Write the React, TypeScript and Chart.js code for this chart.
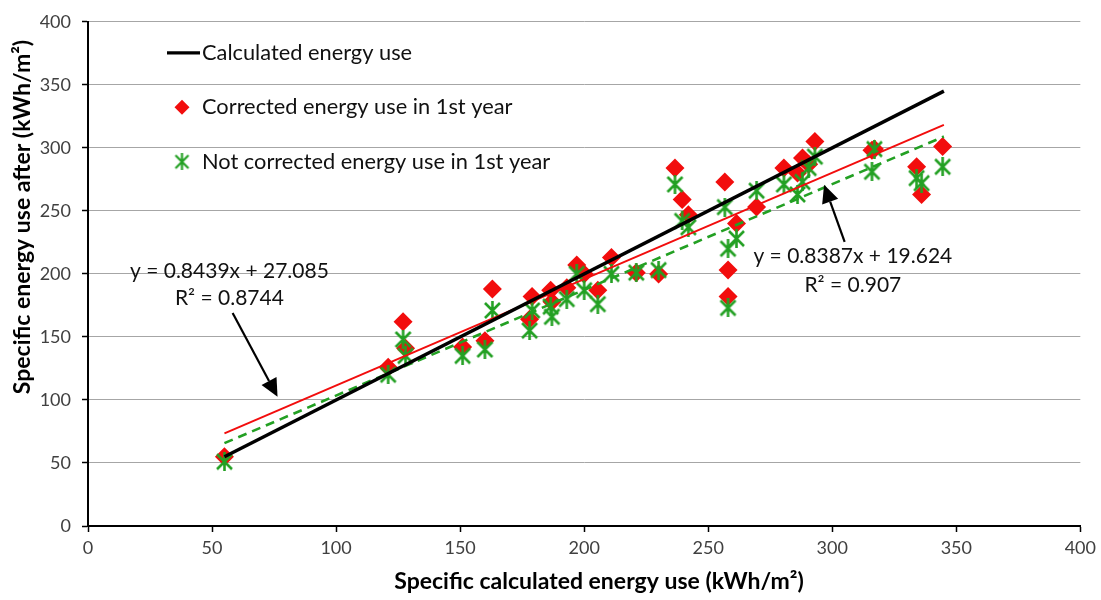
import { useEffect, useRef } from "react";
import { Chart, registerables } from "chart.js";

Chart.register(...registerables);

// Specific calculated energy use per building (kWh/m²)
const calculatedUse = [
  55, 121, 127, 128, 151, 160, 163, 178, 179, 186.5, 187, 193, 197, 200, 205.5,
  211, 221, 230, 236.6, 239.5, 242, 256.7, 258, 258, 261.4, 269.5, 280.5, 286,
  288, 290.5, 293, 316, 317, 334, 336, 344.5,
];
// Energy use after, corrected for the 1st year
const correctedUse = [
  55, 126, 162, 141, 142, 147, 188, 164, 182, 187, 178, 189, 207, 200, 187,
  213, 201, 200, 284, 259, 247, 273, 203, 182, 240, 253, 284, 280, 292, 287,
  305, 298, 299, 285, 263, 301,
];
// Energy use after, not corrected, 1st year
const notCorrectedUse = [
  51, 120, 148, 135, 135, 140, 171, 155, 171, 174, 166, 180, 200, 187, 176,
  200, 201, 203, 271, 242, 237, 253, 220, 173, 228, 266, 271, 263, 273, 284,
  293, 281, 299, 276, 272, 285,
];

const axisTicks = [0, 50, 100, 150, 200, 250, 300, 350, 400];
const lineRange = [55, 345];

// Regression results
const correctedFit = { slope: 0.8439, intercept: 27.085, r2: "0.8744" };
const notCorrectedFit = { slope: 0.8387, intercept: 19.624, r2: "0.907" };

const legendLabels = [
  "Calculated energy use",
  "Corrected energy use in 1st year",
  "Not corrected energy use in 1st year",
];
const xTitle = "Specific calculated energy use (kWh/m²)";
const yTitle = "Specific energy use after (kWh/m²)";

const FONT = 'Lato, "Open Sans", sans-serif';
const RED = "#f20d0d";
const GREEN = "#23a023";

function makeAsterisk(size: number, color: string, width: number) {
  const c = document.createElement("canvas");
  c.width = size;
  c.height = size;
  const g = c.getContext("2d")!;
  g.strokeStyle = color;
  g.lineWidth = width;
  g.lineCap = "butt";
  const m = 2;
  g.beginPath();
  g.moveTo(m, m);
  g.lineTo(size - m, size - m);
  g.moveTo(size - m, m);
  g.lineTo(m, size - m);
  g.moveTo(size / 2, 0);
  g.lineTo(size / 2, size);
  g.stroke();
  return c;
}

function fitLine(fit: { slope: number; intercept: number }) {
  return lineRange.map((x) => ({ x, y: fit.slope * x + fit.intercept }));
}

export default function App() {
  const ref = useRef<HTMLCanvasElement>(null);

  useEffect(() => {
    document.body.style.margin = "0";
    const asterisk = makeAsterisk(19, GREEN, 2.6);
    const legendAsterisk = makeAsterisk(17, GREEN, 2.2);

    const overlay = {
      id: "overlay",
      afterDraw(chart: any) {
        const { ctx, chartArea, scales } = chart;
        const xs = scales.x;
        const ys = scales.y;
        ctx.save();

        // axis titles
        ctx.fillStyle = "#000";
        ctx.textBaseline = "middle";
        ctx.textAlign = "center";
        ctx.font = `bold 23px ${FONT}`;
        ctx.fillText(xTitle, 599, 582);
        ctx.save();
        ctx.translate(23, 217);
        ctx.rotate(-Math.PI / 2);
        ctx.font = `bold 23px ${FONT}`;
        ctx.fillText(yTitle, 0, 0);
        ctx.restore();

        // legend
        const lx = chartArea.left + 79;
        const ly = chartArea.top + 31;
        const gap = 54.5;
        ctx.font = `21.8px ${FONT}`;
        ctx.fillStyle = "#111";
        ctx.textAlign = "left";
        ctx.strokeStyle = "#000";
        ctx.lineWidth = 3.2;
        ctx.beginPath();
        ctx.moveTo(lx, ly);
        ctx.lineTo(lx + 33, ly);
        ctx.stroke();
        ctx.fillText(legendLabels[0], lx + 35, ly);

        const dy = ly + gap;
        ctx.fillStyle = RED;
        ctx.beginPath();
        ctx.moveTo(lx + 15, dy - 7.5);
        ctx.lineTo(lx + 22.5, dy);
        ctx.lineTo(lx + 15, dy + 7.5);
        ctx.lineTo(lx + 7.5, dy);
        ctx.closePath();
        ctx.fill();
        ctx.fillStyle = "#111";
        ctx.fillText(legendLabels[1], lx + 35, dy);

        const sy = ly + gap * 2;
        ctx.drawImage(legendAsterisk, lx + 15 - 8.5, sy - 8.5);
        ctx.fillText(legendLabels[2], lx + 35, sy);

        // regression labels
        const fmt = (f: any) =>
          `y = ${f.slope.toFixed(4)}x + ${f.intercept.toFixed(3)}`;
        ctx.font = `21px ${FONT}`;
        ctx.textAlign = "center";
        ctx.fillStyle = "#111";
        ctx.fillText(fmt(correctedFit), xs.getPixelForValue(57), ys.getPixelForValue(202));
        ctx.fillText(`R² = ${correctedFit.r2}`, xs.getPixelForValue(57), ys.getPixelForValue(181));
        ctx.fillText(fmt(notCorrectedFit), xs.getPixelForValue(308.3), ys.getPixelForValue(213.7));
        ctx.fillText(`R² = ${notCorrectedFit.r2}`, xs.getPixelForValue(308.3), ys.getPixelForValue(191));

        // arrows
        const arrow = (x1: number, y1: number, x2: number, y2: number) => {
          const ax = xs.getPixelForValue(x1);
          const ay = ys.getPixelForValue(y1);
          const bx = xs.getPixelForValue(x2);
          const by = ys.getPixelForValue(y2);
          const ang = Math.atan2(by - ay, bx - ax);
          const head = 18;
          const half = 8.5;
          const baseX = bx - head * Math.cos(ang);
          const baseY = by - head * Math.sin(ang);
          ctx.strokeStyle = "#000";
          ctx.lineWidth = 2.2;
          ctx.beginPath();
          ctx.moveTo(ax, ay);
          ctx.lineTo(baseX, baseY);
          ctx.stroke();
          ctx.fillStyle = "#000";
          ctx.beginPath();
          ctx.moveTo(bx, by);
          ctx.lineTo(baseX + half * Math.sin(ang), baseY - half * Math.cos(ang));
          ctx.lineTo(baseX - half * Math.sin(ang), baseY + half * Math.cos(ang));
          ctx.closePath();
          ctx.fill();
        };
        arrow(58.3, 169, 76.4, 102.5);
        arrow(305, 225.4, 296.7, 270.8);

        ctx.restore();
      },
    };

    const chart = new Chart(ref.current!, {
      type: "scatter",
      data: {
        datasets: [
          {
            type: "line",
            label: legendLabels[0],
            data: lineRange.map((x) => ({ x, y: x })),
            borderColor: "#000",
            borderWidth: 3.4,
            pointRadius: 0,
            order: 0,
          },
          {
            type: "line",
            label: "Corrected trend",
            data: fitLine(correctedFit),
            borderColor: RED,
            borderWidth: 2,
            pointRadius: 0,
            order: 1,
          },
          {
            type: "line",
            label: "Not corrected trend",
            data: fitLine(notCorrectedFit),
            borderColor: GREEN,
            borderWidth: 2.6,
            borderDash: [9, 6],
            pointRadius: 0,
            order: 2,
          },
          {
            label: legendLabels[2],
            data: calculatedUse.map((x, i) => ({ x, y: notCorrectedUse[i] })),
            pointStyle: asterisk as any,
            pointRadius: 9,
            order: 3,
          },
          {
            label: legendLabels[1],
            data: calculatedUse.map((x, i) => ({ x, y: correctedUse[i] })),
            pointStyle: "rectRot",
            pointRadius: 9.5,
            backgroundColor: RED,
            borderColor: RED,
            borderWidth: 0,
            order: 4,
          },
        ],
      },
      options: {
        animation: false,
        responsive: true,
        maintainAspectRatio: false,
        layout: { padding: { top: 15, right: 18, left: 0, bottom: 0 } },
        plugins: {
          legend: { display: false },
          tooltip: { enabled: false },
        },
        scales: {
          x: {
            type: "linear",
            min: 0,
            max: 400,
            afterBuildTicks: (s: any) => {
              s.ticks = axisTicks.map((v) => ({ value: v }));
            },
            afterFit: (s: any) => {
              s.height = 74;
            },
            ticks: {
              color: "#404040",
              font: { family: FONT, size: 18 },
              padding: 5,
            },
            grid: {
              drawOnChartArea: false,
              drawTicks: true,
              tickLength: 6,
              tickColor: "#000",
              tickWidth: 1.5,
            },
            border: { color: "#000", width: 2 },
          },
          y: {
            type: "linear",
            min: 0,
            max: 400,
            afterBuildTicks: (s: any) => {
              s.ticks = axisTicks.map((v) => ({ value: v }));
            },
            afterFit: (s: any) => {
              s.width = 88;
            },
            ticks: {
              color: "#404040",
              font: { family: FONT, size: 18 },
              padding: 11,
            },
            grid: {
              color: "#a6a6a6",
              lineWidth: 1,
              drawTicks: true,
              tickLength: 6,
              tickColor: "#000",
              tickWidth: 1.5,
            },
            border: { color: "#000", width: 2 },
          },
        },
      },
      plugins: [overlay],
    });

    return () => chart.destroy();
  }, []);

  return (
    <div style={{ width: 1101, height: 600, position: "relative" }}>
      <canvas ref={ref} />
    </div>
  );
}
